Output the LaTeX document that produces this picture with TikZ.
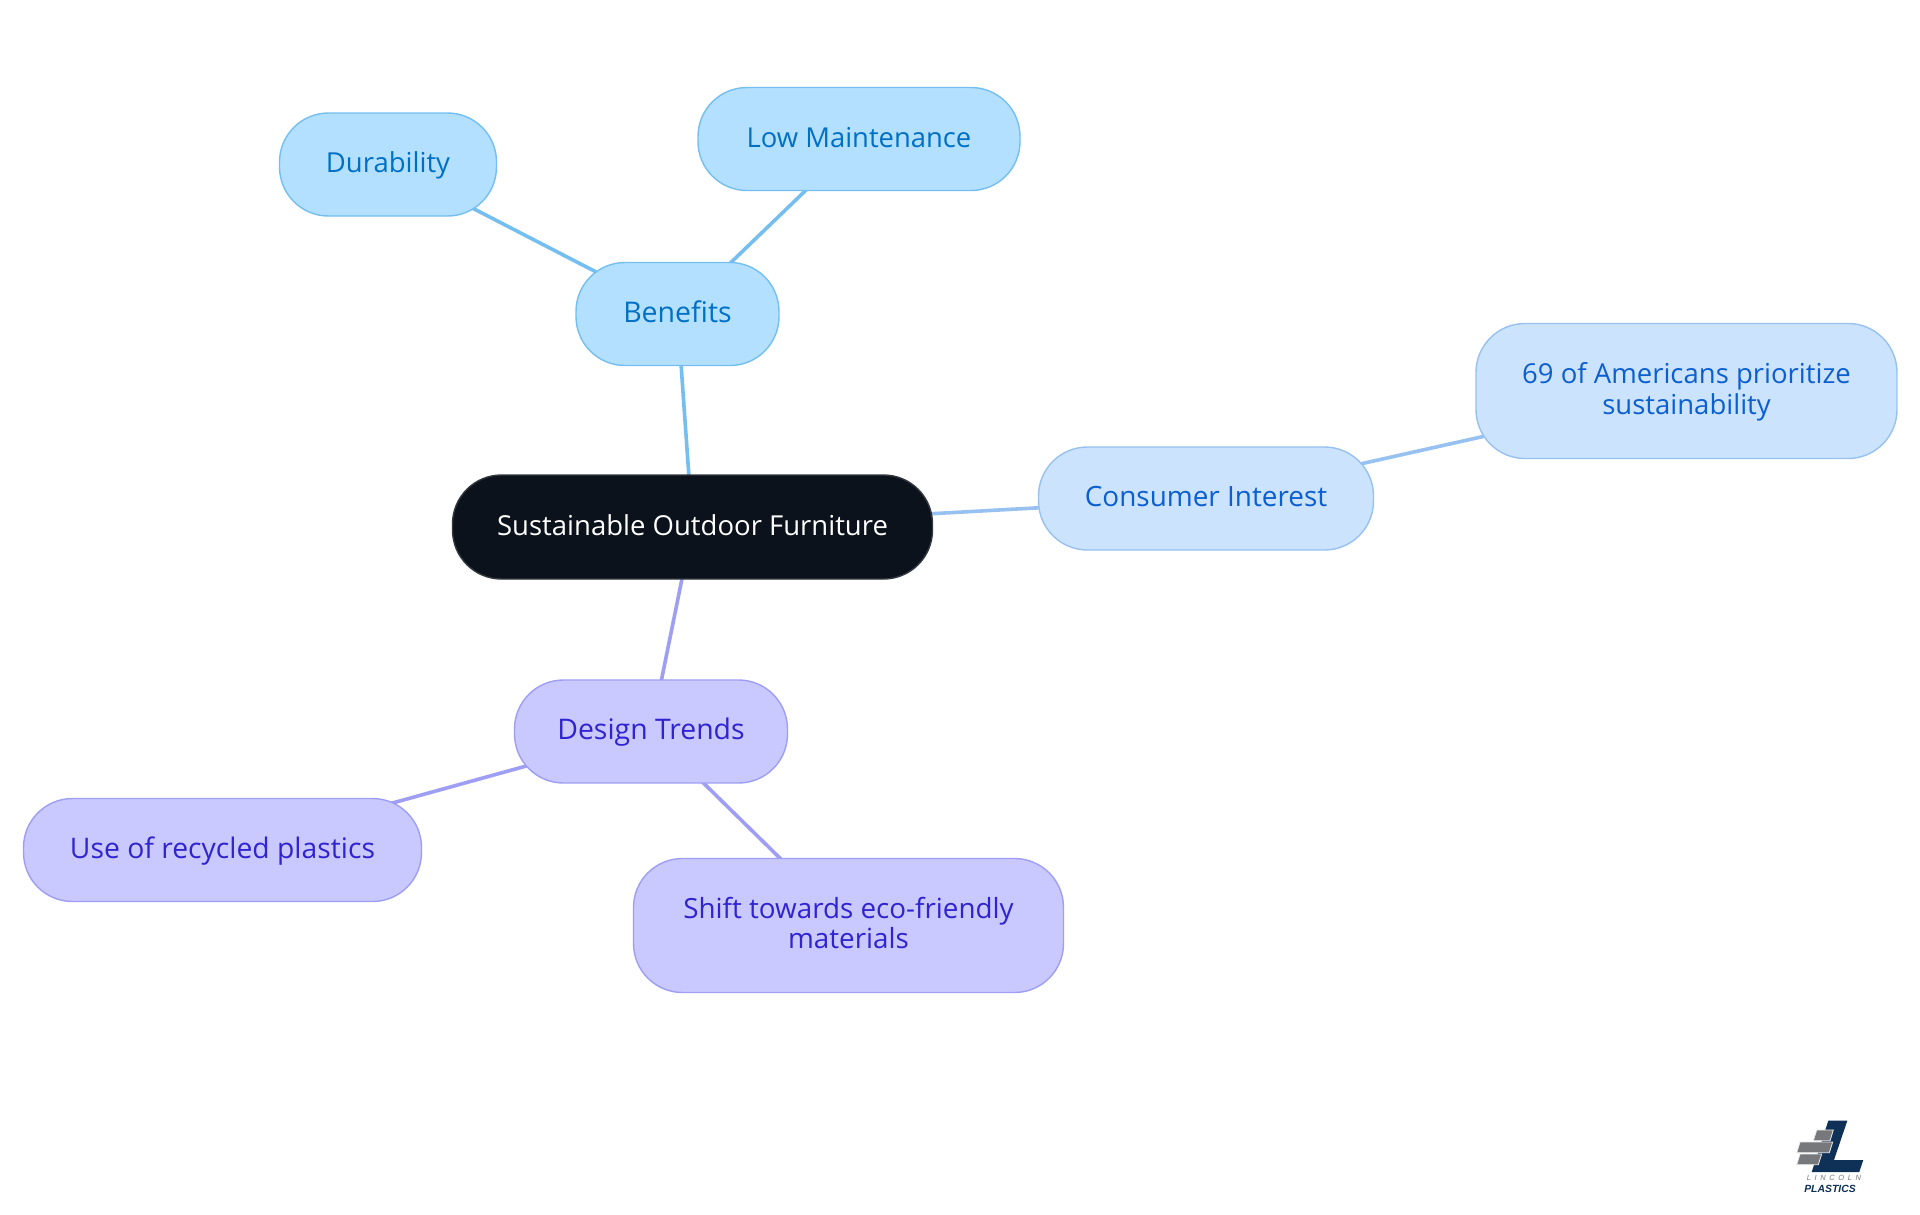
\documentclass[tikz,border=0pt]{standalone}
\usepackage{fontspec}
\usetikzlibrary{backgrounds}
\setmainfont{Open Sans}
\newfontfamily\logofont{Liberation Sans}
\newcommand{\ms}{\rule[-8pt]{0pt}{32pt}}
\newcommand{\mst}{\rule{0pt}{24pt}}
\newcommand{\msb}{\rule[-8pt]{0pt}{8pt}}
\tikzset{
  x=1pt,y=-1pt,
  mm/.style={rectangle,rounded corners=49pt,line width=1.4pt,align=center,inner sep=0pt,font=\fontsize{27.5}{30.6}\selectfont},
  fs/.style={font=\fontsize{#1}{30.6}\selectfont},
  rootn/.style={mm,fill=rootc,draw=rootb,text=white},
  bluen/.style={mm,fill=bluef,draw=blueb,text=bluet},
  paln/.style={mm,fill=palef,draw=paleb,text=palet},
  purn/.style={mm,fill=purf,draw=purb,text=purt},
  link/.style={line width=3.6pt},
  logotext/.style={inner sep=0pt,text=navy},
  brickshape/.style={fill=brick,draw=white!85!brick,line width=0.8pt},
}
\definecolor{rootc}{HTML}{0B121B}
\definecolor{rootb}{HTML}{33383F}
\definecolor{bluef}{HTML}{B3E0FF}
\definecolor{blueb}{HTML}{74BFF0}
\definecolor{bluet}{HTML}{0070C4}
\definecolor{palef}{HTML}{CCE3FD}
\definecolor{paleb}{HTML}{96C1F0}
\definecolor{palet}{HTML}{0B5FD0}
\definecolor{purf}{HTML}{C9C9FF}
\definecolor{purb}{HTML}{9E9EF5}
\definecolor{purt}{HTML}{3023D0}
\definecolor{navy}{HTML}{0F3057}
\definecolor{brick}{HTML}{77787B}
\begin{document}
\begin{tikzpicture}
\useasboundingbox (0,0) rectangle (1920,1215);
\node[rootn,minimum width=480pt,minimum height=104pt] (root) at (692.5,527) {\ms Sustainable Outdoor Furniture};
\node[bluen,fs=28.5,minimum width=203pt,minimum height=103pt] (ben) at (677.5,314) {\ms Benefits};
\node[bluen,minimum width=217pt,minimum height=103pt] (dur) at (388,164.5) {\ms Durability};
\node[bluen,fs=27.4,minimum width=322pt,minimum height=103pt] (low) at (859,139) {\ms Low Maintenance};
\node[paln,fs=27.9,minimum width=335pt,minimum height=103pt] (con) at (1206,498.5) {\ms Consumer Interest};
\node[paln,minimum width=421pt,minimum height=135pt] (am) at (1686.5,391) {\mst 69 of Americans prioritize\\sustainability\msb};
\node[purn,fs=28.4,minimum width=273pt,minimum height=103pt] (des) at (651,731.5) {\ms Design Trends};
\node[purn,fs=28.3,minimum width=398pt,minimum height=103pt] (rec) at (222.5,850) {\ms Use of recycled plastics};
\node[purn,fs=27.8,minimum width=430pt,minimum height=134pt] (shi) at (848.5,925.5) {\mst Shift towards eco-friendly\\materials\msb};
\begin{scope}[on background layer]
\fill[white] (0,0) rectangle (1920,1215);
\draw[link,blueb] (root.center) -- (ben.center);
\draw[link,blueb] (ben.center) -- (dur.center);
\draw[link,blueb] (ben.center) -- (low.center);
\draw[link,paleb] (root.center) -- (con.center);
\draw[link,paleb] (con.center) -- (am.center);
\draw[link,purb] (root.center) -- (des.center);
\draw[link,purb] (des.center) -- (rec.center);
\draw[link,purb] (des.center) -- (shi.center);
\end{scope}
% logo
\fill[navy] (1828.3,1120.7) -- (1847.3,1120.7) -- (1834,1160) -- (1863.3,1160) -- (1859.3,1172) -- (1811.7,1172) -- cycle;
\filldraw[brickshape] (1816.7,1130) -- (1833.3,1130) -- (1830,1140.7) -- (1813.3,1140.7) -- cycle;
\filldraw[brickshape] (1800,1142) -- (1832.7,1142) -- (1829.3,1152.7) -- (1796.7,1152.7) -- cycle;
\filldraw[brickshape] (1800,1154) -- (1821.7,1154) -- (1818.3,1164.7) -- (1796.7,1164.7) -- cycle;
\node[logotext,text=brick,font=\logofont\itshape\fontsize{7.5}{8}\selectfont] (lin) at (1834,1178) {L\hspace{3.6pt}I\hspace{3.6pt}N\hspace{3.6pt}C\hspace{3.6pt}O\hspace{3.6pt}L\hspace{3.6pt}N};
\node[logotext,font=\logofont\bfseries\itshape\fontsize{10.4}{12}\selectfont] (pla) at (1830,1188.8) {PLASTICS};
\end{tikzpicture}
\end{document}
